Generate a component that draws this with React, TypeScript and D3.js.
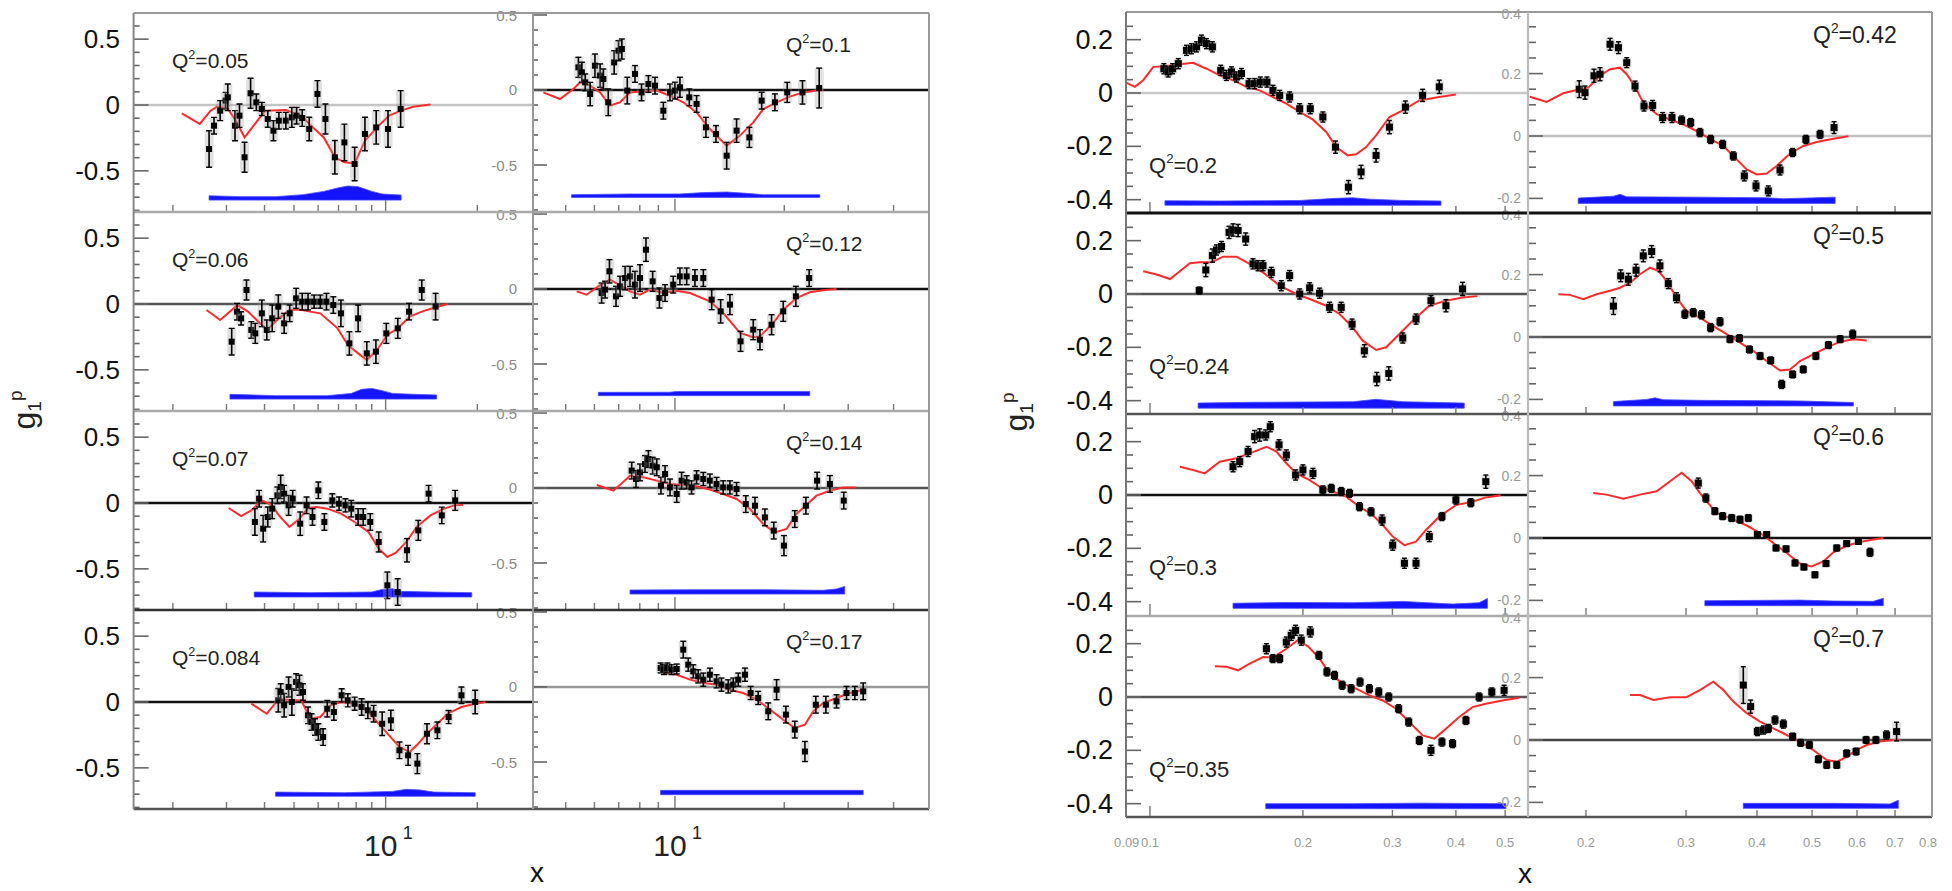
import React from 'react';
import * as d3 from 'd3';

// ---------------- DATA ----------------
// Left figure, left column
const q005X = [0.0263,0.0273,0.0286,0.0298,0.0303,0.0320,0.0331,0.0344,0.0360,0.0376,0.0392,0.0410,0.0428,0.0446,0.0470,0.0492,0.0510,0.0532,0.0561,0.0597,0.0634,0.0681,0.0732,0.0791,0.0855,0.0931,0.1018,0.112];
const q005Y = [-0.334,-0.157,-0.043,0.033,0.058,-0.157,-0.081,-0.397,0.089,0.020,-0.030,-0.106,-0.195,-0.119,-0.119,-0.094,-0.081,-0.099,-0.182,0.084,-0.106,-0.397,-0.284,-0.448,-0.220,-0.170,-0.182,-0.030];
const q005E = [0.139,0.063,0.076,0.063,0.101,0.114,0.089,0.114,0.114,0.063,0.050,0.063,0.076,0.063,0.063,0.076,0.063,0.063,0.089,0.101,0.114,0.127,0.139,0.127,0.127,0.127,0.139,0.139];
const m005X = [0.0214,0.0245,0.0266,0.0279,0.0302,0.0322,0.0344,0.0372,0.0402,0.0470,0.0529,0.0564,0.0626,0.0681,0.0732,0.0791,0.0855,0.0937,0.1026,0.1124,0.1232,0.1403];
const m005Y = [-0.063,-0.144,-0.043,-0.013,-0.023,-0.119,-0.246,-0.144,-0.043,-0.038,-0.081,-0.149,-0.246,-0.397,-0.435,-0.443,-0.271,-0.170,-0.081,-0.043,-0.013,0.003];
const s005X = [0.0263,0.0335,0.0435,0.0535,0.0626,0.0695,0.0751,0.0812,0.0901,0.0974,0.1124];
const s005T = [-0.689,-0.696,-0.696,-0.681,-0.656,-0.630,-0.615,-0.620,-0.656,-0.676,-0.684];

const q006X = [0.0312,0.0325,0.0335,0.0349,0.0362,0.0373,0.0392,0.0407,0.0424,0.0444,0.0464,0.0484,0.0508,0.0532,0.0556,0.0582,0.0610,0.0639,0.0673,0.0713,0.0760,0.0812,0.0867,0.0929,0.1005,0.1096,0.1194,0.1314,0.1459];
const q006Y = [-0.286,-0.058,-0.109,0.106,-0.197,-0.223,-0.071,-0.197,-0.109,-0.020,-0.147,-0.071,0.043,0.018,0.018,0.018,0.018,0.018,-0.008,-0.071,-0.299,-0.109,-0.375,-0.362,-0.223,-0.185,-0.058,0.106,-0.020];
const q006E = [0.101,0.063,0.050,0.076,0.063,0.076,0.101,0.076,0.101,0.089,0.076,0.063,0.076,0.063,0.063,0.050,0.050,0.063,0.063,0.101,0.089,0.101,0.089,0.089,0.076,0.076,0.063,0.076,0.101];
const m006X = [0.0258,0.0286,0.0326,0.0353,0.0407,0.0446,0.0483,0.0521,0.0564,0.0610,0.0695,0.0751,0.0812,0.0867,0.0937,0.1013,0.1096,0.120,0.1314,0.1459,0.160];
const m006Y = [-0.046,-0.122,-0.008,-0.058,-0.197,-0.109,-0.046,-0.041,-0.058,-0.071,-0.185,-0.311,-0.375,-0.425,-0.349,-0.235,-0.185,-0.096,-0.058,-0.025,0];
const s006X = [0.0308,0.0435,0.0643,0.0771,0.0834,0.0901,0.0974,0.1053,0.1232,0.1470];
const s006T = [-0.686,-0.696,-0.696,-0.679,-0.648,-0.641,-0.658,-0.679,-0.686,-0.691];

const q007X = [0.0372,0.0384,0.0396,0.0410,0.0424,0.0441,0.0452,0.0464,0.0480,0.0495,0.0524,0.0550,0.0575,0.0601,0.0629,0.0668,0.0703,0.0738,0.0771,0.0812,0.0844,0.0890,0.0949,0.1013,0.1095,0.1175,0.1280,0.1384,0.1529,0.1692];
const q007Y = [-0.144,0.033,-0.195,-0.106,-0.043,0.058,0.122,0.071,-0.018,0.033,-0.157,-0.018,-0.106,0.096,-0.144,0.020,-0.005,-0.018,-0.043,-0.106,-0.106,-0.144,-0.296,-0.625,-0.676,-0.359,-0.208,0.071,-0.094,0.020];
const q007E = [0.101,0.063,0.101,0.076,0.076,0.063,0.089,0.063,0.076,0.063,0.089,0.063,0.063,0.063,0.063,0.050,0.050,0.050,0.063,0.063,0.063,0.063,0.076,0.101,0.101,0.089,0.076,0.063,0.063,0.076];
const m007X = [0.0305,0.0335,0.0362,0.0392,0.0424,0.0446,0.0483,0.0521,0.0556,0.0594,0.0643,0.0713,0.0791,0.0878,0.0949,0.1013,0.1081,0.1169,0.1264,0.1403,0.1557,0.1684,0.1798];
const m007Y = [-0.038,-0.099,-0.056,0.020,-0.018,-0.094,-0.182,-0.119,-0.038,-0.030,-0.043,-0.081,-0.144,-0.220,-0.347,-0.410,-0.377,-0.296,-0.182,-0.094,-0.043,-0.018,-0.013];
const s007X = [0.0370,0.0564,0.0901,0.0974,0.1053,0.1124,0.1403,0.1918];
const s007T = [-0.676,-0.681,-0.676,-0.656,-0.651,-0.671,-0.676,-0.681];

const q0084X = [0.0444,0.0452,0.0464,0.0480,0.0492,0.0508,0.0521,0.0535,0.0556,0.0571,0.0586,0.0601,0.0623,0.0643,0.0676,0.0717,0.0751,0.0791,0.0834,0.0874,0.0913,0.0974,0.1040,0.1110,0.1185,0.1271,0.1367,0.1479,0.1610,0.1774,0.1968];
const q0084Y = [0.013,0.076,-0.025,0.114,0,0.152,0.127,0.076,-0.101,-0.152,-0.190,-0.228,-0.266,-0.051,-0.076,0.051,0.013,-0.013,-0.038,-0.063,-0.089,-0.165,-0.139,-0.367,-0.405,-0.468,-0.241,-0.215,-0.114,0.051,0];
const q0084E = [0.089,0.063,0.089,0.076,0.101,0.063,0.076,0.063,0.063,0.063,0.063,0.063,0.063,0.063,0.063,0.050,0.050,0.050,0.063,0.063,0.063,0.089,0.076,0.063,0.076,0.076,0.076,0.063,0.050,0.063,0.089];
const m0084X = [0.0362,0.0407,0.0446,0.0489,0.0529,0.0564,0.0610,0.0659,0.0713,0.0791,0.0878,0.0949,0.1026,0.1110,0.120,0.1264,0.1367,0.1479,0.1598,0.1774,0.1968,0.2128];
const m0084Y = [-0.013,-0.089,0.025,0.013,0.013,-0.127,-0.114,-0.025,0,-0.013,-0.076,-0.165,-0.253,-0.342,-0.380,-0.329,-0.241,-0.165,-0.089,-0.038,-0.013,0];
const s0084X = [0.0435,0.0732,0.1053,0.1169,0.1298,0.1439,0.1968];
const s0084T = [-0.684,-0.689,-0.679,-0.663,-0.668,-0.684,-0.689];

// Left figure, right column
const q01X = [0.0542,0.0554,0.0566,0.0584,0.0602,0.0622,0.0635,0.0655,0.0680,0.0699,0.0714,0.0739,0.0776,0.0809,0.0845,0.0881,0.0929,0.0969,0.1,0.1032,0.1095,0.1147,0.1217,0.1297,0.1388,0.1478,0.1603,0.1733,0.1885,0.2038,0.2245,0.2496];
const q01Y = [0.151,0.118,0.051,-0.027,0.162,0.096,0.073,-0.082,0.184,0.262,0.273,-0.004,0.107,-0.016,0.040,0.029,-0.138,-0.016,-0.004,0.018,-0.049,-0.093,-0.249,-0.293,-0.438,-0.271,-0.316,-0.071,-0.082,-0.016,-0.016,0.013];
const q01E = [0.067,0.067,0.056,0.078,0.078,0.078,0.067,0.089,0.078,0.067,0.067,0.089,0.056,0.056,0.056,0.056,0.056,0.056,0.056,0.067,0.056,0.056,0.067,0.056,0.089,0.078,0.067,0.056,0.056,0.067,0.078,0.133];
const m01X = [0.0434,0.0482,0.0525,0.0548,0.0584,0.0622,0.0662,0.0706,0.0752,0.0818,0.0891,0.0969,0.1054,0.1147,0.1248,0.1388,0.1510,0.1643,0.1750,0.1905,0.2073,0.2254,0.2455,0.2559];
const m01Y = [-0.016,-0.060,0.007,0.051,0.029,-0.016,-0.104,-0.082,-0.016,-0.009,-0.004,-0.038,-0.082,-0.149,-0.260,-0.371,-0.304,-0.216,-0.127,-0.082,-0.044,-0.016,-0.004,0];
const s01X = [0.0519,0.0752,0.1032,0.1197,0.1388,0.1574,0.1750,0.2506];
const s01T = [-0.698,-0.693,-0.693,-0.684,-0.680,-0.689,-0.698,-0.698];

const q012X = [0.0628,0.0642,0.0660,0.0688,0.0706,0.0729,0.0752,0.0776,0.0801,0.0832,0.0868,0.0906,0.0939,0.0989,0.1032,0.1077,0.1135,0.1197,0.1262,0.1336,0.1417,0.1516,0.1643,0.1714,0.1845,0.1987,0.2153,0.2342];
const q012Y = [-0.027,-0.004,0.118,-0.049,0.018,0.073,0.084,0.029,0.073,0.262,0.051,-0.060,-0.027,0.029,0.084,0.084,0.073,0.073,-0.071,-0.149,-0.104,-0.349,-0.271,-0.338,-0.238,-0.149,-0.049,0.073];
const q012E = [0.067,0.056,0.078,0.067,0.067,0.078,0.067,0.089,0.089,0.078,0.067,0.067,0.056,0.056,0.056,0.056,0.056,0.056,0.067,0.078,0.067,0.067,0.067,0.067,0.067,0.067,0.067,0.056];
const m012X = [0.0536,0.0571,0.0615,0.0662,0.0714,0.0752,0.0801,0.0853,0.0929,0.1011,0.1100,0.1248,0.1358,0.1510,0.1643,0.1714,0.1865,0.1987,0.2161,0.2351,0.2559,0.2786];
const m012Y = [-0.016,-0.038,0.018,0.062,0.018,-0.016,-0.038,-0.004,-0.027,-0.011,-0.027,-0.082,-0.160,-0.293,-0.322,-0.316,-0.227,-0.138,-0.060,-0.022,-0.009,0];
const s012X = [0.0615,0.0969,0.1011,0.1750,0.2351];
const s012T = [-0.689,-0.688,-0.683,-0.683,-0.683];

const q014X = [0.0760,0.0781,0.0801,0.0827,0.0845,0.0868,0.0891,0.0915,0.0939,0.0969,0.1011,0.1043,0.1077,0.1111,0.1147,0.1197,0.1248,0.1302,0.1358,0.1417,0.1478,0.1567,0.1661,0.1769,0.1871,0.1996,0.2138,0.2294,0.2463,0.2671,0.2917];
const q014Y = [0.116,0.060,0.104,0.160,0.193,0.149,0.138,0.016,0.093,0.004,-0.040,0.049,0.038,0.004,0.071,0.060,0.049,0.027,0.004,0.004,-0.007,-0.107,-0.118,-0.196,-0.284,-0.384,-0.207,-0.118,0.049,0.027,-0.084];
const q014E = [0.056,0.056,0.056,0.056,0.056,0.056,0.056,0.056,0.056,0.056,0.056,0.056,0.044,0.044,0.044,0.044,0.044,0.044,0.044,0.044,0.044,0.056,0.056,0.056,0.056,0.067,0.056,0.056,0.056,0.056,0.056];
const m014X = [0.0609,0.0677,0.0752,0.0818,0.0891,0.0969,0.1054,0.1147,0.1248,0.1358,0.1478,0.1609,0.1750,0.1884,0.2029,0.2161,0.2302,0.2453,0.2671,0.2906,0.3162];
const m014Y = [0.020,-0.018,0.082,0.071,0.049,0.027,0.020,0.011,-0.011,-0.040,-0.073,-0.140,-0.240,-0.296,-0.273,-0.173,-0.113,-0.051,-0.018,0.004,0.004];
const s014X = [0.0752,0.1147,0.1750,0.2559,0.2786,0.2935];
const s014T = [-0.680,-0.678,-0.678,-0.682,-0.673,-0.656];

const q017X = [0.0913,0.0933,0.0953,0.0979,0.1011,0.1054,0.1088,0.1123,0.1159,0.1197,0.1248,0.1302,0.1343,0.1402,0.1447,0.1494,0.1559,0.1616,0.1695,0.1807,0.1905,0.2021,0.2138,0.2280,0.2443,0.2604,0.2786,0.2968,0.3129,0.3299];
const q017Y = [0.127,0.116,0.127,0.116,0.120,0.249,0.149,0.104,0.071,0.049,0.082,0.038,0.016,0.004,0.016,0.049,0.082,-0.040,-0.073,-0.162,-0.018,-0.184,-0.284,-0.430,-0.118,-0.118,-0.096,-0.040,-0.040,-0.029];
const q017E = [0.033,0.033,0.033,0.033,0.033,0.056,0.044,0.044,0.044,0.044,0.044,0.044,0.044,0.044,0.044,0.044,0.044,0.044,0.044,0.056,0.067,0.056,0.056,0.067,0.056,0.056,0.044,0.044,0.044,0.056];
const m017X = [0.0929,0.1011,0.1100,0.1197,0.1302,0.1417,0.1542,0.1678,0.1828,0.1987,0.2138,0.2280,0.2403,0.2559,0.2786,0.3031,0.3299];
const m017Y = [0.093,0.082,0.049,0.027,0.016,-0.018,-0.040,-0.084,-0.151,-0.218,-0.273,-0.251,-0.162,-0.107,-0.073,-0.040,-0.018];
const s017X = [0.0913,0.3299];
const s017T = [-0.689,-0.689];

// Right figure, left column
const q02X = [0.1065,0.1086,0.1108,0.1137,0.1180,0.1207,0.1235,0.1263,0.1292,0.1327,0.1378,0.1414,0.1447,0.1480,0.1514,0.1567,0.1607,0.1649,0.1699,0.1746,0.1800,0.1883,0.1971,0.2068,0.2189,0.2318,0.2458,0.2603,0.2786,0.2960,0.3182,0.3440,0.3710];
const q02Y = [0.091,0.079,0.091,0.110,0.160,0.166,0.173,0.198,0.185,0.173,0.085,0.066,0.079,0.060,0.073,0.035,0.035,0.041,0.041,0.010,-0.009,-0.015,-0.059,-0.059,-0.090,-0.203,-0.353,-0.296,-0.234,-0.128,-0.053,-0.009,0.023];
const q02E = [0.019,0.019,0.019,0.019,0.019,0.019,0.019,0.019,0.019,0.019,0.019,0.019,0.019,0.019,0.019,0.019,0.019,0.019,0.019,0.019,0.019,0.019,0.019,0.019,0.019,0.023,0.025,0.025,0.025,0.025,0.023,0.023,0.025];
const m02X = [0.0900,0.0934,0.0970,0.1015,0.1078,0.1145,0.1216,0.1292,0.1372,0.1457,0.1548,0.1644,0.1746,0.1855,0.1971,0.2093,0.2223,0.2325,0.2450,0.2545,0.2663,0.2786,0.2960,0.3144,0.3389,0.3710,0.4];
const m02Y = [0.038,0.023,0.048,0.098,0.100,0.108,0.113,0.091,0.066,0.048,0.023,0.010,-0.015,-0.040,-0.071,-0.100,-0.146,-0.203,-0.234,-0.230,-0.203,-0.159,-0.090,-0.065,-0.028,-0.015,-0.006];
const s02X = [0.1070,0.1372,0.1971,0.2325,0.2506,0.2703,0.3144,0.3738];
const s02T = [-0.404,-0.405,-0.403,-0.395,-0.393,-0.398,-0.403,-0.405];

const q024X = [0.1250,0.1288,0.1327,0.1352,0.1383,0.1431,0.1457,0.1491,0.1543,0.1595,0.1632,0.1669,0.1733,0.1813,0.1883,0.1971,0.2062,0.2157,0.2257,0.2379,0.2499,0.2642,0.2795,0.2951,0.3144,0.3339,0.3573,0.3824,0.4123];
const q024Y = [0.013,0.090,0.144,0.165,0.178,0.231,0.240,0.238,0.206,0.113,0.106,0.106,0.081,0.031,0.069,0,0.023,0.003,-0.050,-0.050,-0.113,-0.213,-0.319,-0.298,-0.165,-0.094,-0.025,-0.044,0.019];
const q024E = [0.013,0.025,0.025,0.019,0.019,0.023,0.023,0.023,0.023,0.019,0.019,0.019,0.019,0.019,0.019,0.019,0.019,0.019,0.019,0.019,0.019,0.023,0.025,0.025,0.019,0.019,0.019,0.023,0.025];
const m024X = [0.0970,0.1031,0.1095,0.1145,0.1198,0.1254,0.1322,0.1393,0.1480,0.1571,0.1669,0.1800,0.1941,0.2062,0.2223,0.2361,0.2506,0.2622,0.2786,0.2916,0.3097,0.3289,0.3546,0.3824,0.4123,0.4412];
const m024Y = [0.085,0.073,0.056,0.085,0.115,0.119,0.119,0.140,0.140,0.113,0.081,0.031,0,-0.019,-0.044,-0.075,-0.125,-0.175,-0.210,-0.200,-0.150,-0.100,-0.044,-0.025,-0.013,-0.008];
const s024X = [0.1244,0.1595,0.2506,0.2786,0.3144,0.4154];
const s024T = [-0.409,-0.406,-0.404,-0.395,-0.404,-0.409];

const q03X = [0.1457,0.1502,0.1560,0.1607,0.1644,0.1690,0.1725,0.1795,0.1855,0.1935,0.2,0.2093,0.2189,0.2274,0.2379,0.2470,0.2584,0.2723,0.2863,0.3004,0.3168,0.3339,0.3546,0.3755,0.4,0.4280,0.4581];
const q03Y = [0.106,0.125,0.163,0.219,0.225,0.225,0.256,0.188,0.150,0.075,0.094,0.081,0.019,0.025,0.013,0.006,-0.044,-0.063,-0.094,-0.188,-0.256,-0.256,-0.156,-0.081,-0.019,-0.029,0.050];
const q03E = [0.019,0.019,0.019,0.023,0.023,0.019,0.019,0.019,0.019,0.019,0.019,0.019,0.015,0.015,0.015,0.015,0.015,0.015,0.019,0.019,0.019,0.019,0.019,0.015,0.015,0.015,0.025];
const m03X = [0.1145,0.1216,0.1282,0.1372,0.1480,0.1571,0.1695,0.1773,0.1855,0.1941,0.2062,0.2157,0.2291,0.2433,0.2584,0.2744,0.2872,0.3004,0.3168,0.3339,0.3493,0.3710,0.4,0.4312,0.4581,0.4899];
const m03Y = [0.106,0.094,0.081,0.125,0.138,0.156,0.181,0.163,0.119,0.081,0.056,0.031,0.013,-0.006,-0.044,-0.075,-0.113,-0.156,-0.188,-0.175,-0.131,-0.081,-0.038,-0.025,-0.009,-0.001];
const s03X = [0.1457,0.1855,0.2506,0.3144,0.3940,0.4444,0.4615];
const s03T = [-0.406,-0.403,-0.404,-0.399,-0.409,-0.404,-0.388];

const q035X = [0.1695,0.1746,0.1800,0.1855,0.1897,0.1935,0.1985,0.2068,0.2150,0.2230,0.2308,0.2389,0.2488,0.2591,0.2703,0.2820,0.2951,0.3086,0.3230,0.3389,0.3573,0.3755,0.3940,0.4187,0.4444,0.4707,0.4977];
const q035Y = [0.181,0.144,0.144,0.206,0.231,0.250,0.213,0.244,0.156,0.094,0.081,0.044,0.031,0.056,0.031,0.019,0,-0.044,-0.094,-0.163,-0.200,-0.169,-0.175,-0.088,0,0.019,0.025];
const q035E = [0.019,0.015,0.015,0.019,0.019,0.019,0.019,0.019,0.015,0.015,0.015,0.015,0.015,0.015,0.015,0.015,0.015,0.015,0.015,0.015,0.019,0.015,0.015,0.015,0.015,0.015,0.019];
const m035X = [0.1342,0.1414,0.1491,0.1571,0.1669,0.1746,0.1855,0.1955,0.2047,0.2157,0.2257,0.2397,0.2545,0.2703,0.2872,0.3049,0.3239,0.3440,0.3628,0.3824,0.4062,0.4312,0.4581,0.4939,0.5327];
const m035Y = [0.115,0.113,0.100,0.125,0.150,0.148,0.181,0.213,0.190,0.144,0.088,0.050,0.031,0.006,-0.013,-0.044,-0.094,-0.144,-0.156,-0.119,-0.075,-0.038,-0.025,-0.013,-0.003];
const s035X = [0.1690,0.2506,0.3389,0.5015];
const s035T = [-0.400,-0.400,-0.398,-0.400];

// Right figure, right column
const q042X = [0.1946,0.1992,0.2066,0.2117,0.2205,0.2281,0.2359,0.2440,0.2530,0.2620,0.2729,0.2834,0.2947,0.3057,0.3174,0.3315,0.3480,0.3634,0.3800,0.3984,0.4188,0.4391,0.4622,0.4877,0.5165,0.5467];
const q042Y = [0.150,0.139,0.193,0.198,0.294,0.283,0.235,0.160,0.096,0.098,0.059,0.059,0.051,0.043,0.011,-0.011,-0.027,-0.064,-0.128,-0.160,-0.176,-0.109,-0.053,-0.011,0.005,0.027];
const q042E = [0.027,0.021,0.021,0.021,0.019,0.019,0.016,0.016,0.016,0.016,0.016,0.016,0.013,0.013,0.013,0.013,0.013,0.013,0.016,0.016,0.016,0.016,0.013,0.013,0.013,0.019];
const m042X = [0.1593,0.1705,0.1824,0.1951,0.2019,0.2117,0.2205,0.2296,0.2359,0.2440,0.2523,0.2663,0.2812,0.2967,0.3132,0.3306,0.3490,0.3684,0.3836,0.3995,0.4160,0.4332,0.4573,0.4825,0.5095,0.5452,0.5794];
const m042Y = [0.126,0.109,0.137,0.150,0.155,0.193,0.214,0.219,0.198,0.158,0.107,0.070,0.053,0.037,0.016,-0.009,-0.032,-0.075,-0.107,-0.123,-0.120,-0.096,-0.056,-0.032,-0.019,-0.009,-0.001];
const s042X = [0.1938,0.2235,0.2296,0.2359,0.3174,0.4160,0.4451,0.5490];
const s042T = [-0.199,-0.193,-0.187,-0.195,-0.196,-0.198,-0.201,-0.196];

const q05X = [0.2235,0.2302,0.2375,0.2450,0.2523,0.2610,0.2699,0.2792,0.2887,0.2986,0.3089,0.3195,0.3315,0.3443,0.3585,0.3725,0.3879,0.4050,0.4228,0.4421,0.4622,0.4825,0.5078,0.5343,0.5603,0.5896];
const q05Y = [0.099,0.196,0.185,0.214,0.260,0.274,0.228,0.171,0.126,0.073,0.078,0.071,0.030,0.049,-0.007,-0.004,-0.040,-0.061,-0.075,-0.152,-0.120,-0.104,-0.061,-0.026,-0.007,0.009];
const q05E = [0.027,0.019,0.019,0.019,0.019,0.019,0.019,0.016,0.016,0.013,0.013,0.013,0.013,0.013,0.011,0.011,0.011,0.011,0.011,0.013,0.011,0.011,0.011,0.011,0.011,0.013];
const m05X = [0.1788,0.1874,0.1978,0.2088,0.2205,0.2296,0.2391,0.2490,0.2593,0.2681,0.2773,0.2887,0.3006,0.3174,0.3351,0.3537,0.3734,0.3942,0.4160,0.4391,0.4573,0.4762,0.5024,0.5307,0.5603,0.5912,0.6241];
const m05Y = [0.137,0.135,0.121,0.137,0.148,0.158,0.174,0.201,0.222,0.212,0.180,0.126,0.083,0.062,0.035,0.009,-0.018,-0.045,-0.077,-0.107,-0.104,-0.077,-0.056,-0.034,-0.015,-0.007,-0.011];
const s05X = [0.2235,0.2558,0.2646,0.2736,0.3174,0.4762,0.5912];
const s05T = [-0.207,-0.200,-0.195,-0.201,-0.203,-0.205,-0.210];

const q06X = [0.3153,0.3251,0.3372,0.3480,0.3610,0.3734,0.3862,0.4006,0.4160,0.4321,0.4500,0.4667,0.4838,0.5059,0.5291,0.5527,0.5754,0.6034,0.6324];
const q06Y = [0.176,0.128,0.086,0.070,0.064,0.059,0.064,0.011,0.011,-0.032,-0.035,-0.080,-0.093,-0.118,-0.082,-0.032,-0.018,-0.011,-0.046];
const q06E = [0.016,0.013,0.011,0.011,0.011,0.011,0.011,0.009,0.009,0.009,0.009,0.009,0.009,0.009,0.009,0.009,0.009,0.009,0.013];
const m06X = [0.2060,0.2173,0.2327,0.2490,0.2663,0.2812,0.2947,0.3069,0.3174,0.3260,0.3395,0.3634,0.3836,0.4050,0.4274,0.4512,0.4762,0.4990,0.5234,0.5452,0.5754,0.6075,0.6410,0.6674];
const m06Y = [0.144,0.139,0.126,0.139,0.150,0.182,0.209,0.182,0.144,0.118,0.080,0.059,0.040,0.016,-0.016,-0.048,-0.082,-0.091,-0.075,-0.046,-0.025,-0.013,-0.005,0];
const s06X = [0.3238,0.4762,0.5452,0.6410,0.6674];
const s06T = [-0.201,-0.199,-0.202,-0.203,-0.193];

const q07X = [0.3784,0.3898,0.4006,0.4106,0.4188,0.4303,0.4451,0.4622,0.4774,0.4946,0.5130,0.5307,0.5527,0.5754,0.5977,0.6225,0.6478,0.6763,0.7044];
const q07Y = [0.176,0.107,0.027,0.032,0.037,0.064,0.051,0.011,-0.009,-0.016,-0.062,-0.080,-0.080,-0.043,-0.037,0,0,0.016,0.027];
const q07E = [0.059,0.021,0.013,0.013,0.013,0.013,0.013,0.011,0.011,0.011,0.011,0.011,0.011,0.011,0.011,0.011,0.011,0.013,0.030];
const m07X = [0.2391,0.2490,0.2628,0.2812,0.3006,0.3174,0.3351,0.3490,0.3634,0.3836,0.4050,0.4274,0.4512,0.4762,0.5024,0.5307,0.5527,0.5754,0.5993,0.6241,0.6583,0.6949,0.7140];
const m07Y = [0.144,0.144,0.128,0.137,0.137,0.160,0.187,0.160,0.123,0.086,0.059,0.037,0.016,-0.005,-0.032,-0.064,-0.070,-0.053,-0.032,-0.016,-0.005,0,0];
const s07X = [0.3784,0.5452,0.6855,0.7092];
const s07T = [-0.203,-0.203,-0.205,-0.193];

// band baselines (lower edge of systematic band) per panel
const bandBaseA0 = [-0.722, -0.722, -0.714, -0.716];
const bandBaseA1 = [-0.716, -0.711, -0.707, -0.718];
const bandBaseB0 = [-0.421, -0.428, -0.425, -0.419];
const bandBaseB1 = [-0.216, -0.221, -0.217, -0.219];

// Q^2 labels
const q2A0 = ['0.05', '0.06', '0.07', '0.084'];
const q2A1 = ['0.1', '0.12', '0.14', '0.17'];
const q2B0 = ['0.2', '0.24', '0.3', '0.35'];
const q2B1 = ['0.42', '0.5', '0.6', '0.7'];

// tick values
const xTicksA0 = [0.02, 0.03, 0.04, 0.05, 0.06, 0.07, 0.08, 0.09, 0.1, 0.2];
const xTicksA1 = [0.05, 0.06, 0.07, 0.08, 0.09, 0.1, 0.2, 0.3, 0.4];
const xTicksB0 = [0.1, 0.2, 0.3, 0.4, 0.5];
const xTicksB1 = [0.2, 0.3, 0.4, 0.5, 0.6, 0.7];
const xLabelsB0 = ['0.09', '0.1', '0.2', '0.3', '0.4', '0.5'];
const xLabelsB1 = ['0.2', '0.3', '0.4', '0.5', '0.6', '0.7', '0.8'];
const yLabelsA = [0.5, 0, -0.5];
const yLabelsB0 = [0.2, 0, -0.2, -0.4];
const yLabelsB1 = [0.4, 0.2, 0, -0.2];

// ---------------- LAYOUT / STYLE ----------------
const FONT = '"Liberation Sans", Arial, Helvetica, sans-serif';

type PD = { px: number[]; py: number[]; pe: number[]; cx: number[]; cy: number[]; bx: number[]; bt: number[]; bb: number; q: string };

const mk = (px: number[], py: number[], pe: number[], cx: number[], cy: number[], bx: number[], bt: number[], bb: number, q: string): PD => ({ px, py, pe, cx, cy, bx, bt, bb, q });

const panelsA0 = [
  mk(q005X, q005Y, q005E, m005X, m005Y, s005X, s005T, bandBaseA0[0], q2A0[0]),
  mk(q006X, q006Y, q006E, m006X, m006Y, s006X, s006T, bandBaseA0[1], q2A0[1]),
  mk(q007X, q007Y, q007E, m007X, m007Y, s007X, s007T, bandBaseA0[2], q2A0[2]),
  mk(q0084X, q0084Y, q0084E, m0084X, m0084Y, s0084X, s0084T, bandBaseA0[3], q2A0[3]),
];
const panelsA1 = [
  mk(q01X, q01Y, q01E, m01X, m01Y, s01X, s01T, bandBaseA1[0], q2A1[0]),
  mk(q012X, q012Y, q012E, m012X, m012Y, s012X, s012T, bandBaseA1[1], q2A1[1]),
  mk(q014X, q014Y, q014E, m014X, m014Y, s014X, s014T, bandBaseA1[2], q2A1[2]),
  mk(q017X, q017Y, q017E, m017X, m017Y, s017X, s017T, bandBaseA1[3], q2A1[3]),
];
const panelsB0 = [
  mk(q02X, q02Y, q02E, m02X, m02Y, s02X, s02T, bandBaseB0[0], q2B0[0]),
  mk(q024X, q024Y, q024E, m024X, m024Y, s024X, s024T, bandBaseB0[1], q2B0[1]),
  mk(q03X, q03Y, q03E, m03X, m03Y, s03X, s03T, bandBaseB0[2], q2B0[2]),
  mk(q035X, q035Y, q035E, m035X, m035Y, s035X, s035T, bandBaseB0[3], q2B0[3]),
];
const panelsB1 = [
  mk(q042X, q042Y, q042E, m042X, m042Y, s042X, s042T, bandBaseB1[0], q2B1[0]),
  mk(q05X, q05Y, q05E, m05X, m05Y, s05X, s05T, bandBaseB1[1], q2B1[1]),
  mk(q06X, q06Y, q06E, m06X, m06Y, s06X, s06T, bandBaseB1[2], q2B1[2]),
  mk(q07X, q07Y, q07E, m07X, m07Y, s07X, s07T, bandBaseB1[3], q2B1[3]),
];

type Col = {
  x0: number; x1: number; xDom: [number, number];
  tops: number[]; h: number; yDom: [number, number];
  yMinor: number[]; yMajor: number[]; yLabels: number[];
  labX: number; labSize: number; labFill: string; minorLen: number; majorLen: number;
  xTicks: number[]; xMajor: number; xMinLen: number; xMajLen: number;
  qx: number; qdy: number; qSize: number;
  zero: string[]; mSize: number; capW: number;
  panels: PD[];
};

const colA0: Col = {
  x0: 133.6, x1: 533, xDom: [0.01486, 0.3048], tops: [13, 212, 411, 610], h: 199, yDom: [-0.8125, 0.6986],
  yMinor: d3.range(-8, 7).map(i => i / 10), yMajor: [-0.5, 0, 0.5], yLabels: yLabelsA,
  labX: 120, labSize: 26, labFill: '#111', minorLen: 6, majorLen: 15,
  xTicks: xTicksA0, xMajor: 0.1, xMinLen: 7, xMajLen: 12,
  qx: 172, qdy: 55, qSize: 21, zero: ['#c4c4c4', '#555', '#111', '#111'], mSize: 6, capW: 6, panels: panelsA0,
};
const colA1: Col = {
  x0: 533, x1: 929, xDom: [0.04064, 0.5008], tops: [13, 212, 411, 610], h: 199, yDom: [-0.8133, 0.5133],
  yMinor: d3.range(-8, 6).map(i => i / 10), yMajor: [-0.5, 0, 0.5], yLabels: yLabelsA,
  labX: 517, labSize: 15, labFill: '#8a8a8a', minorLen: 5, majorLen: 14,
  xTicks: xTicksA1, xMajor: 0.1, xMinLen: 7, xMajLen: 13,
  qx: 786, qdy: 39, qSize: 21, zero: ['#111', '#111', '#555', '#999'], mSize: 6, capW: 6, panels: panelsA1,
};
const colB0: Col = {
  x0: 1126, x1: 1528, xDom: [0.08971, 0.5546], tops: [12, 213, 414, 616], h: 201, yDom: [-0.45, 0.3037],
  yMinor: d3.range(-8, 7).map(i => i * 0.05), yMajor: [-0.4, -0.2, 0, 0.2], yLabels: yLabelsB0,
  labX: 1113, labSize: 27, labFill: '#111', minorLen: 7, majorLen: 15,
  xTicks: xTicksB0, xMajor: 0.1, xMinLen: 7, xMajLen: 11,
  qx: 1149, qdy: 161, qSize: 22, zero: ['#c8c8c8', '#555', '#111', '#555'], mSize: 7, capW: 5, panels: panelsB0,
};
const colB1: Col = {
  x0: 1528, x1: 1932, xDom: [0.1581, 0.8131], tops: [12, 213, 414, 616], h: 201, yDom: [-0.2468, 0.3974],
  yMinor: d3.range(-4, 9).map(i => i * 0.05), yMajor: [-0.2, 0, 0.2, 0.4], yLabels: yLabelsB1,
  labX: 1521, labSize: 14, labFill: '#999', minorLen: 8, majorLen: 15,
  xTicks: xTicksB1, xMajor: -1, xMinLen: 7, xMajLen: 7,
  qx: 1813, qdy: 31, qSize: 23, zero: ['#c0c0c0', '#555', '#111', '#444'], mSize: 7, capW: 5, panels: panelsB1,
};

const fmt = (v: number) => (Math.abs(v) < 1e-9 ? '0' : String(+v.toFixed(2)));

function Panel({ col, i }: { col: Col; i: number }) {
  const p = col.panels[i];
  const top = col.tops[i];
  const bottom = top + col.h;
  const xs = d3.scaleLog().domain(col.xDom).range([col.x0, col.x1]);
  const ys = d3.scaleLinear().domain(col.yDom).range([bottom, top]);
  const line = d3.line<number>().x((_, k) => xs(p.cx[k])).y((d) => ys(d));
  const area = d3.area<number>().x((_, k) => xs(p.bx[k])).y0(() => ys(p.bb)).y1((d) => ys(d));
  const clipId = `clip-${Math.round(col.x0)}-${i}`;
  const hs = col.mSize / 2;
  return (
    <g>
      <defs>
        <clipPath id={clipId}>
          <rect x={col.x0} y={top} width={col.x1 - col.x0} height={col.h} />
        </clipPath>
      </defs>
      <g clipPath={`url(#${clipId})`}>
        <path d={area(p.bt) || ''} fill="#1414ff" stroke="#4a4aff" strokeWidth={0.8} />
        <line x1={col.x0} x2={col.x1} y1={ys(0)} y2={ys(0)} stroke={col.zero[i]} strokeWidth={2.6} />
        <path d={line(p.cy) || ''} fill="none" stroke="#ff2b2b" strokeWidth={2} />
        {p.px.map((xv, k) => {
          const cx = xs(xv), cy = ys(p.py[k]);
          const y1 = ys(p.py[k] + p.pe[k]), y2 = ys(p.py[k] - p.pe[k]);
          return (
            <g key={k}>
              <rect x={cx - 4.5} y={y1} width={9} height={y2 - y1} fill="#9a9a9a" opacity={0.3} />
              <line x1={cx} x2={cx} y1={y1} y2={y2} stroke="#000" strokeWidth={1.6} />
              <line x1={cx - col.capW / 2} x2={cx + col.capW / 2} y1={y1} y2={y1} stroke="#000" strokeWidth={1.4} />
              <line x1={cx - col.capW / 2} x2={cx + col.capW / 2} y1={y2} y2={y2} stroke="#000" strokeWidth={1.4} />
              <rect x={cx - hs} y={cy - hs} width={col.mSize} height={col.mSize} fill="#000" />
            </g>
          );
        })}
      </g>
      {col.yMinor.map((v, k) => {
        const yy = ys(v);
        if (yy < top + 1 || yy > bottom - 1) return null;
        const major = col.yMajor.some((m) => Math.abs(m - v) < 1e-6);
        return <line key={'yt' + k} x1={col.x0} x2={col.x0 + (major ? col.majorLen : col.minorLen)} y1={yy} y2={yy} stroke="#666" strokeWidth={1.6} />;
      })}
      {col.xTicks.map((v, k) => {
        const xx = xs(v);
        const major = Math.abs(v - col.xMajor) < 1e-9;
        return <line key={'xt' + k} x1={xx} x2={xx} y1={bottom} y2={bottom - (major ? col.xMajLen : col.xMinLen)} stroke="#777" strokeWidth={1.4} />;
      })}
      {col.yLabels.map((v, k) => {
        let yy = ys(v);
        if (yy < top + 2) yy = top + 2;
        return (
          <text key={'yl' + k} x={col.labX} y={yy} fontSize={col.labSize} fill={col.labFill} textAnchor="end" dominantBaseline="central" fontFamily={FONT}>
            {fmt(v)}
          </text>
        );
      })}
      <text x={col.qx} y={top + col.qdy} fontSize={col.qSize} fill="#222" fontFamily={FONT}>
        Q<tspan fontSize={col.qSize * 0.6} dy={-col.qSize * 0.45}>2</tspan>
        <tspan dy={col.qSize * 0.45}>={p.q}</tspan>
      </text>
    </g>
  );
}

function Column({ col }: { col: Col }) {
  return (
    <g>
      {col.panels.map((_, i) => (
        <Panel key={i} col={col} i={i} />
      ))}
    </g>
  );
}

export default function App() {
  const xsA0 = d3.scaleLog().domain(colA0.xDom).range([colA0.x0, colA0.x1]);
  const xsA1 = d3.scaleLog().domain(colA1.xDom).range([colA1.x0, colA1.x1]);
  const xsB0 = d3.scaleLog().domain(colB0.xDom).range([colB0.x0, colB0.x1]);
  const xsB1 = d3.scaleLog().domain(colB1.xDom).range([colB1.x0, colB1.x1]);
  return (
    <svg width={1952} height={891} style={{ position: 'absolute', left: 0, top: 0, background: '#fff' }} fontFamily={FONT}>
      <rect x={0} y={0} width={1952} height={891} fill="#fff" />
      <Column col={colA0} />
      <Column col={colA1} />
      <Column col={colB0} />
      <Column col={colB1} />

      {/* Frames, left figure */}
      <line x1={133.6} x2={929} y1={13} y2={13} stroke="#999" strokeWidth={2} />
      <line x1={133.6} x2={929} y1={212} y2={212} stroke="#aaa" strokeWidth={2.4} />
      <line x1={133.6} x2={929} y1={411} y2={411} stroke="#aaa" strokeWidth={2.4} />
      <line x1={133.6} x2={929} y1={610} y2={610} stroke="#333" strokeWidth={2.4} />
      <line x1={133.6} x2={929} y1={809} y2={809} stroke="#555" strokeWidth={2.4} />
      <line x1={133.6} x2={133.6} y1={13} y2={809} stroke="#888" strokeWidth={2} />
      <line x1={533} x2={533} y1={13} y2={809} stroke="#999" strokeWidth={2} />
      <line x1={929} x2={929} y1={13} y2={809} stroke="#999" strokeWidth={2} />

      {/* Frames, right figure */}
      <line x1={1126} x2={1932} y1={12} y2={12} stroke="#999" strokeWidth={2} />
      <line x1={1126} x2={1932} y1={213} y2={213} stroke="#111" strokeWidth={2.8} />
      <line x1={1126} x2={1932} y1={414} y2={414} stroke="#555" strokeWidth={2.4} />
      <line x1={1126} x2={1932} y1={616} y2={616} stroke="#aaa" strokeWidth={2.4} />
      <line x1={1126} x2={1932} y1={817} y2={817} stroke="#555" strokeWidth={2.4} />
      <line x1={1126} x2={1126} y1={12} y2={817} stroke="#777" strokeWidth={2} />
      <line x1={1528} x2={1528} y1={12} y2={817} stroke="#bbb" strokeWidth={2.2} />
      <line x1={1932} x2={1932} y1={12} y2={817} stroke="#999" strokeWidth={2} />

      {/* bottom x tick labels */}
      <text x={xsA0(0.1) - 5} y={856} fontSize={30} textAnchor="middle" fill="#222">10</text>
      <text x={xsA0(0.1) + 17} y={839} fontSize={18} fill="#222">1</text>
      <text x={xsA1(0.1) - 5} y={856} fontSize={30} textAnchor="middle" fill="#222">10</text>
      <text x={xsA1(0.1) + 17} y={839} fontSize={18} fill="#222">1</text>
      {xLabelsB0.map((t, k) => (
        <text key={'b0' + k} x={xsB0(+t)} y={847} fontSize={13} textAnchor="middle" fill="#999">{t}</text>
      ))}
      {xLabelsB1.map((t, k) => (
        <text key={'b1' + k} x={xsB1(+t)} y={847} fontSize={13} textAnchor="middle" fill="#999">{t}</text>
      ))}

      {/* axis titles */}
      <text x={537} y={882} fontSize={28} textAnchor="middle" fill="#111">x</text>
      <text x={1525} y={883} fontSize={28} textAnchor="middle" fill="#111">x</text>
      <text transform="translate(35,410) rotate(-90)" fontSize={32} textAnchor="middle" fill="#222">
        g<tspan fontSize={19} dy={6}>1</tspan><tspan fontSize={19} dy={-19}>p</tspan>
      </text>
      <text transform="translate(1027,412) rotate(-90)" fontSize={32} textAnchor="middle" fill="#222">
        g<tspan fontSize={19} dy={6}>1</tspan><tspan fontSize={19} dy={-19}>p</tspan>
      </text>
    </svg>
  );
}
